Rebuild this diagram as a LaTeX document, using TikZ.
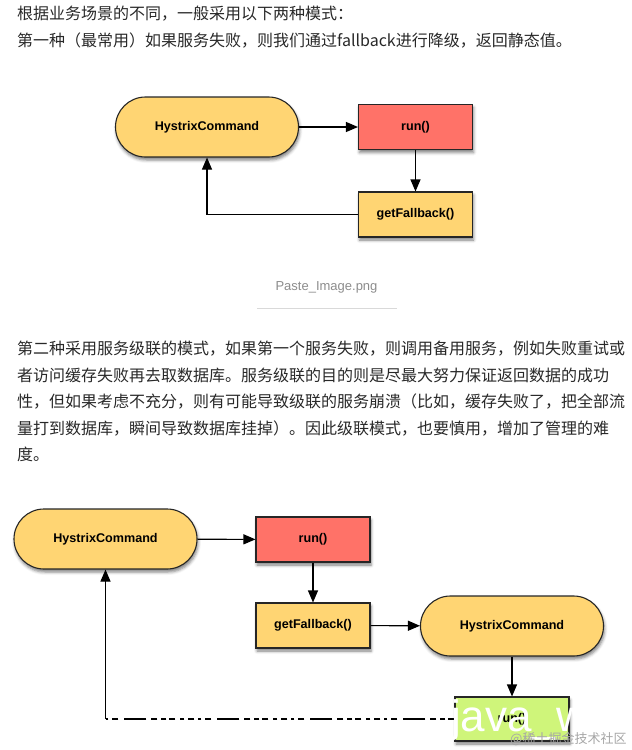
\documentclass[tikz,border=0pt]{standalone}
\usepackage{fontspec}
\setmainfont{Liberation Sans}
\newfontfamily\cjk{Noto Sans CJK SC}
\usetikzlibrary{arrows.meta,shadows.blur}
\definecolor{cmdyellow}{RGB}{255,213,115}
\definecolor{runred}{RGB}{255,114,104}
\definecolor{rungreen}{RGB}{207,245,122}
\definecolor{bodytext}{RGB}{40,40,40}
\definecolor{capgray}{RGB}{140,140,140}
\tikzset{
  shade box/.style={blur shadow={shadow xshift=1pt, shadow yshift=-3pt, shadow blur radius=3pt, shadow opacity=50}},
  cmd/.style={shade box, draw=black!85, line width=1.1pt, fill=cmdyellow, rounded corners=30pt,
    minimum width=183pt, minimum height=60pt, font=\fontsize{12.6}{14}\selectfont\bfseries},
  call/.style={shade box, draw=black!85, line width=1.1pt, minimum width=114pt, minimum height=45pt,
    font=\fontsize{12.6}{14}\selectfont\bfseries},
  flow/.style={line width=1.1pt, -{Triangle[length=12pt,width=10pt]}},
  para/.style={anchor=base west, inner sep=0pt, text=bodytext, font=\cjk\fontsize{16}{16}\selectfont}
}
\begin{document}
\begin{tikzpicture}[x=1pt,y=-1pt]
\useasboundingbox (0,0) rectangle (632,750);
% text above
\node[para] (tA1) at (17,19) {根据业务场景的不同，一般采用以下两种模式：};
\node[para] (tA2) at (17,46) {第一种（最常用）如果服务失败，则我们通过fallback进行降级，返回静态值。};
% first pattern
\node[cmd] (hcA) at (207,127) {HystrixCommand};
\node[call, fill=runred] (runA) at (415.5,127) {run()};
\node[call, fill=cmdyellow] (fbA) at (415.5,214.5) {getFallback()};
\draw[flow] (hcA) -- (runA);
\draw[flow] (runA) -- (fbA);
\draw[flow] (fbA) -| (hcA);
% caption
\node[anchor=base, inner sep=0pt, text=capgray, font=\fontsize{13}{13}\selectfont] (cap) at (326.5,290) {Paste\_Image.png};
\draw[black!15, line width=1pt] (257,308) -- (397,308);
% text between
\node[para] (tB1) at (17,354) {第二种采用服务级联的模式，如果第一个服务失败，则调用备用服务，例如失败重试或};
\node[para] (tB2) at (17,381) {者访问缓存失败再去取数据库。服务级联的目的则是尽最大努力保证返回数据的成功};
\node[para] (tB3) at (17,407) {性，但如果考虑不充分，则有可能导致级联的服务崩溃（比如，缓存失败了，把全部流};
\node[para] (tB4) at (17,434) {量打到数据库，瞬间导致数据库挂掉）。因此级联模式，也要慎用，增加了管理的难};
\node[para] (tB5) at (17,460) {度。};
% second pattern
\node[cmd] (hcB) at (105.5,539) {HystrixCommand};
\node[call, fill=runred] (runB) at (313,539.5) {run()};
\node[call, fill=cmdyellow] (fbB) at (313,625.5) {getFallback()};
\node[cmd] (hcC) at (512,626) {HystrixCommand};
\node[call, fill=rungreen, minimum height=44pt] (runC) at (512,719) {run()};
\draw[flow] (hcB) -- (runB);
\draw[flow] (runB) -- (fbB);
\draw[flow] (fbB) -- (hcC);
\draw[flow] (hcC) -- (runC);
\coordinate (turnB) at (105.5,719);
\draw[line width=1.1pt, dash pattern=on 6pt off 3pt on 5pt off 4pt on 6pt off 5pt on 22pt off 6pt on 6pt off 4pt on 3pt off 4pt on 6pt off 4pt on 4pt off 5pt] (runC) -- (turnB);
\draw[flow] (turnB) -- (hcB);
% marks over the picture
\node[anchor=base west, inner sep=0pt, text=white, font=\fontsize{44}{44}\selectfont] (wmA) at (451,731) {java\_w};
\node[anchor=base west, inner sep=0pt, text=black!35, font=\cjk\fontsize{13}{13}\selectfont] (wmB) at (510,743) {@稀土掘金技术社区};
\end{tikzpicture}
\end{document}
